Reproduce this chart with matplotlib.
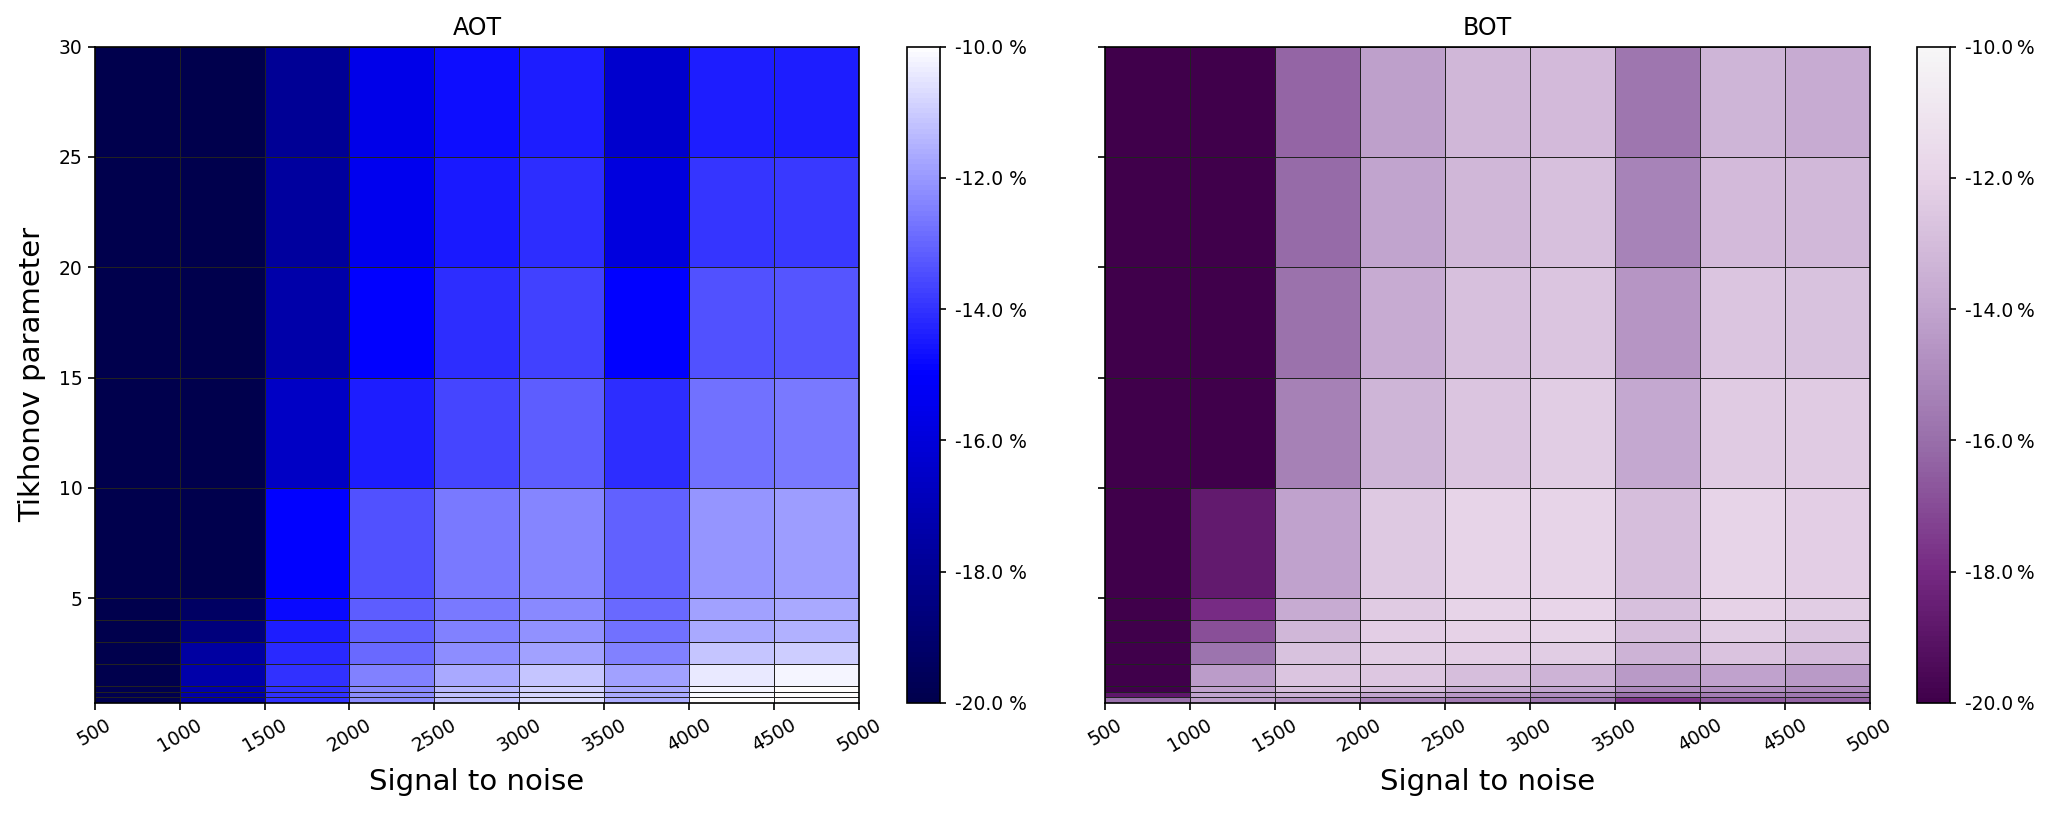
import numpy as np
import matplotlib
matplotlib.use("Agg")
import matplotlib.pyplot as plt
from matplotlib.colors import LinearSegmentedColormap
from matplotlib.ticker import FuncFormatter

# ---- data ----
snr_edges = [500, 1000, 1500, 2000, 2500, 3000, 3500, 4000, 4500, 5000]
tikhonov_edges = [0.25, 0.5, 0.75, 1, 2, 3, 4, 5, 10, 15, 20, 25, 30]
x_ticks = [500, 1000, 1500, 2000, 2500, 3000, 3500, 4000, 4500, 5000]
y_ticks = [5, 10, 15, 20, 25, 30]
cbar_ticks = [-20, -18, -16, -14, -12, -10]

# rows from bottom (0.25-0.5) to top (25-30); columns SNR 500..4500 bins
aot = [
    [-19.9, -17.6, -14.0, -12.2, -11.2, -10.7, -11.6, -10.0, -10.0],
    [-19.9, -17.4, -14.0, -12.25, -11.25, -10.8, -11.65, -10.1, -10.0],
    [-19.9, -17.3, -14.05, -12.3, -11.4, -10.9, -11.7, -10.2, -10.0],
    [-20.0, -17.4, -14.05, -12.5, -11.65, -11.1, -11.85, -10.45, -10.2],
    [-20.0, -17.65, -14.2, -12.9, -12.25, -11.8, -12.5, -11.15, -11.0],
    [-20.0, -18.6, -14.45, -13.05, -12.5, -12.15, -12.75, -11.65, -11.5],
    [-20.0, -19.3, -14.8, -13.2, -12.65, -12.3, -12.9, -11.85, -11.7],
    [-20.0, -19.95, -15.0, -13.4, -12.65, -12.4, -13.1, -12.05, -11.95],
    [-20.0, -20.0, -16.6, -14.4, -13.6, -13.15, -14.1, -12.75, -12.65],
    [-20.0, -20.0, -17.4, -15.0, -14.1, -13.75, -15.0, -13.4, -13.3],
    [-20.0, -20.0, -17.7, -15.4, -14.5, -14.1, -15.9, -13.95, -13.9],
    [-20.0, -20.0, -17.9, -15.6, -14.7, -14.4, -16.4, -14.4, -14.4],
]

bot = [
    [-15.95, -14.15, -14.6, -15.35, -15.5, -15.7, -17.7, -16.6, -16.3],
    [-18.9, -14.0, -13.55, -14.0, -14.5, -14.95, -15.95, -15.5, -15.7],
    [-20.0, -14.1, -12.9, -13.1, -13.7, -14.0, -15.05, -14.9, -15.15],
    [-20.0, -14.3, -12.65, -12.55, -12.9, -13.4, -14.45, -14.1, -14.45],
    [-20.0, -15.8, -12.8, -12.3, -12.2, -12.27, -13.4, -12.7, -13.05],
    [-20.0, -16.9, -13.25, -12.25, -12.05, -12.0, -12.9, -12.3, -12.6],
    [-20.0, -17.95, -13.7, -12.35, -12.0, -11.95, -12.85, -12.1, -12.3],
    [-20.0, -18.72, -14.1, -12.5, -11.97, -12.0, -12.95, -12.0, -12.2],
    [-20.0, -20.0, -15.35, -13.35, -12.6, -12.27, -13.9, -12.4, -12.4],
    [-20.0, -20.0, -15.9, -13.75, -12.85, -12.65, -14.6, -12.65, -12.8],
    [-20.0, -20.0, -16.15, -14.05, -13.25, -12.85, -15.3, -13.1, -13.2],
    [-20.0, -20.0, -16.3, -14.15, -13.27, -13.1, -15.75, -13.3, -13.68],
]

titles = ["AOT", "BOT"]

# ---- colormaps: lower halves of seismic and PRGn ----
seis = plt.get_cmap("seismic")
prgn = plt.get_cmap("PRGn")
cmap_aot = LinearSegmentedColormap.from_list("aot", seis(np.linspace(0, 0.5, 256)))
cmap_bot = LinearSegmentedColormap.from_list("bot", prgn(np.linspace(0, 0.5, 256)))

W, H = 2060, 816
fig = plt.figure(figsize=(W / 100, H / 100), dpi=100)

ax_b = (703) / H
ax_h = (703 - 46.5) / H
axes_pos = [94.6 / W, 1104.9 / W]
ax_w = (859.2 - 94.6) / W
cbar_pos = [906.7 / W, 1917 / W]
cbar_w = 33.5 / W

fmts = [FuncFormatter(lambda v, p: f"{v:.1f} %"),
        FuncFormatter(lambda v, p: f"{v:.1f}\u2009%")]

for i, (data, cmap, title) in enumerate(zip([aot, bot], [cmap_aot, cmap_bot], titles)):
    ax = fig.add_axes([axes_pos[i], 1 - ax_b, ax_w, ax_h])
    mesh = ax.pcolormesh(snr_edges, tikhonov_edges, np.array(data), cmap=cmap,
                         vmin=-20, vmax=-10, edgecolors="#222222", linewidth=0.6)
    ax.set_xlim(500, 5000)
    ax.set_ylim(0.25, 30)
    ax.set_xticks(x_ticks)
    ax.set_xticklabels([str(t) for t in x_ticks], rotation=30, fontsize=13.5)
    ax.set_yticks(y_ticks)
    if i == 0:
        ax.set_yticklabels([str(t) for t in y_ticks], fontsize=13.5)
        ax.set_ylabel("Tikhonov parameter", fontsize=21, labelpad=9)
    else:
        ax.set_yticklabels([])
    ax.tick_params(length=5, width=1.2)
    for s in ax.spines.values():
        s.set_linewidth(1.2)
    ax.set_xlabel("Signal to noise", fontsize=21, labelpad=9)
    ax.set_title(title, fontsize=17, pad=8)

    cax = fig.add_axes([cbar_pos[i], 1 - ax_b, cbar_w, ax_h])
    cb = fig.colorbar(mesh, cax=cax, ticks=cbar_ticks, format=fmts[i])
    cb.ax.tick_params(labelsize=13.5, length=4.6, width=1.2, pad=6)
    cb.outline.set_linewidth(1.2)

fig.savefig("out.png", dpi=100)
